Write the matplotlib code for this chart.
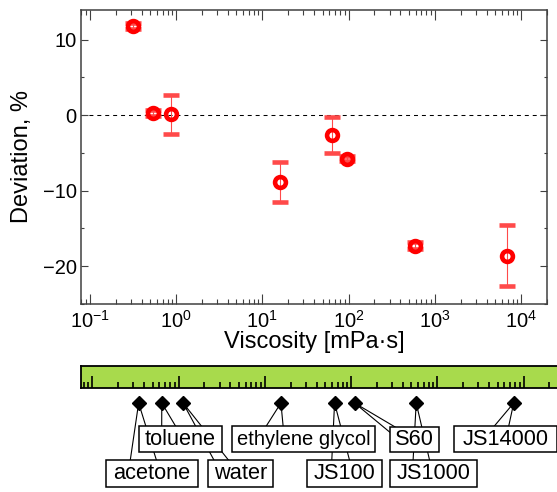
import matplotlib
matplotlib.use("Agg")
import matplotlib.pyplot as plt
from matplotlib.patches import Rectangle, Polygon
import numpy as np

plt.rcParams['font.family'] = ['Liberation Sans', 'DejaVu Sans']

# measured points
visc = [0.32, 0.546, 0.875, 16.1, 63.8, 96.9, 590, 6940]
dev = [11.8, 0.3, 0.1, -8.85, -2.66, -5.75, -17.26, -18.6]
dev_err = [0.4, 0.4, 2.55, 2.6, 2.4, 0.3, 0.5, 4.05]

# nominal viscosities of the liquids (diamonds on the ruler)
liquids = ['acetone', 'toluene', 'water', 'ethylene glycol',
           'JS100', 'S60', 'JS1000', 'JS14000']
liq_visc = [0.345, 0.64, 1.13, 15.4, 64.5, 110, 570, 7700]

W, H = 557, 492
fig = plt.figure(figsize=(W / 100, H / 100), dpi=100)

def fax(x0, x1, ytop, ybot):
    # axes rectangle from pixel edges
    return [x0 / W, 1 - ybot / H, (x1 - x0) / W, (ybot - ytop) / H]

ax = fig.add_axes(fax(81, 547, 9.5, 304))
spine_c = '#404040'
for s in ax.spines.values():
    s.set_color(spine_c)
    s.set_linewidth(1.1)

ax.axhline(0, color='black', lw=0.75, dashes=(3.8, 3.8), zorder=1)
ax.errorbar(visc, dev, yerr=dev_err, fmt='o', ms=7.8, mew=3.3, mfc='none',
            mec='#ff0000', ecolor='#ff4a4a', elinewidth=0.8, capsize=6,
            capthick=0.8, zorder=3)

ax.set_xscale('log')
ax.set_xlim(0.0792, 2.0e4)
ax.set_ylim(-25, 14)
ax.set_yticks([-20, -10, 0, 10])
ax.set_yticks([-25, -15, -5, 5], minor=True)
ax.tick_params(axis='x', which='major', direction='in', top=True, length=7,
               width=0.8, color=spine_c, labelsize=14.5, pad=4)
ax.tick_params(axis='x', which='minor', direction='in', top=True, length=3.5,
               width=0.8, color=spine_c)
ax.tick_params(axis='y', which='major', direction='in', right=True, length=5,
               width=0.8, color=spine_c, labelsize=14.5, pad=3)
ax.tick_params(axis='y', which='minor', direction='in', right=True, length=2.5,
               width=0.8, color=spine_c)
ax.set_xlabel('Viscosity [mPa·s]', fontsize=17, labelpad=0)
ax.set_ylabel('Deviation, %', fontsize=17, labelpad=7)

# green ruler, same decade width, slightly offset
dec = 86.25
x0_px = 178.5
axb = fig.add_axes(fax(81, 620, 365.7, 387.5))
axb.set_facecolor('#a8da4c')
axb.set_xscale('log')
axb.set_xlim(10 ** ((81 - x0_px) / dec), 10 ** ((620 - x0_px) / dec))
axb.set_ylim(0, 1)
axb.set_yticks([])
for s in axb.spines.values():
    s.set_linewidth(1.3)
axb.xaxis.set_minor_locator(matplotlib.ticker.LogLocator(base=10, subs=np.arange(2, 10)))
axb.tick_params(axis='x', which='major', direction='in', length=8.5, width=1.2,
                labelbottom=False)
axb.tick_params(axis='x', which='minor', direction='in', length=4.3, width=1.2,
                labelbottom=False)

# overlay in pixel coordinates for the callouts
axo = fig.add_axes([0, 0, 1, 1], zorder=5)
axo.set_xlim(0, W)
axo.set_ylim(H, 0)
axo.axis('off')

fig.canvas.draw()
dy = 403
dx = [axb.transData.transform((v, 0.5))[0] for v in liq_visc]

# box edges (x0, x1, ytop, ybot) and wedge base points, in pixels
boxes = {
    'acetone': (105.7, 197.7, 460, 486.7),
    'toluene': (139, 221.7, 426, 451.7),
    'water': (207.7, 273.3, 460, 486.7),
    'ethylene glycol': (231.7, 375, 426, 451.7),
    'JS100': (306.7, 381.7, 460, 486.7),
    'S60': (390, 439, 426.7, 451.7),
    'JS1000': (390, 477.3, 460, 486.7),
    'JS14000': (454, 556.7, 426, 451.7),
}
bases = {
    'acetone': [(130, 462), (157, 462)],
    'toluene': [(161.7, 428), (176.7, 428)],
    'water': [(215, 462), (230, 462)],
    'ethylene glycol': [(265, 428), (283.3, 428)],
    'JS100': [(331.7, 462), (350, 462)],
    'S60': [(392, 434), (398, 428.7)],
    'JS1000': [(413, 462), (430, 462)],
    'JS14000': [(492.7, 428), (508.3, 428)],
}

# bottom row first so the top row boxes cover their wedges
order = ['acetone', 'water', 'JS100', 'JS1000',
         'toluene', 'ethylene glycol', 'S60', 'JS14000']
z = 2
for name in order:
    i = liquids.index(name)
    (bx0, by0), (bx1, by1) = bases[name]
    axo.add_patch(Polygon([(dx[i], dy), (bx0, by0), (bx1, by1)], closed=True,
                          fc='white', ec='black', lw=0.8, zorder=z))
    x0, x1, yt, yb = boxes[name]
    axo.add_patch(Rectangle((x0, yt), x1 - x0, yb - yt, fc='white', ec='black',
                            lw=1.1, zorder=z + 1))
    fs = 14.5 if name == 'ethylene glycol' else 15.7
    axo.text((x0 + x1) / 2, (yt + yb) / 2 + 0.5, name, fontsize=fs,
             ha='center', va='center', zorder=z + 2)
    z += 3

axo.plot(dx, [dy] * len(dx), 'D', color='black', ms=6.8, zorder=z + 5)

fig.savefig('out.png', dpi=100)
